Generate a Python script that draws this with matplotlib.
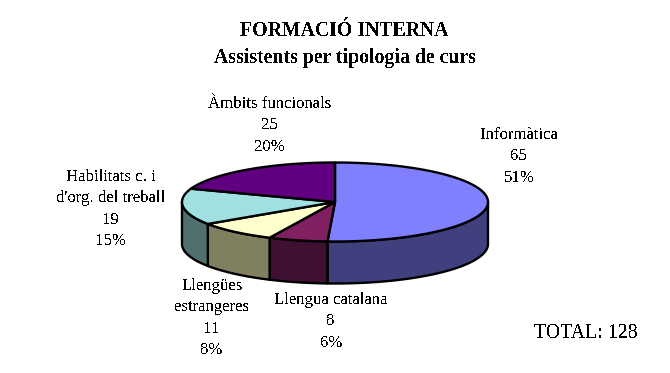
import numpy as np
import matplotlib
matplotlib.use('Agg')
import matplotlib.pyplot as plt

plt.rcParams['font.family'] = ['Liberation Serif', 'DejaVu Serif']
plt.rcParams['text.antialiased'] = False

# Data
names = ['Informàtica', 'Llengua catalana', 'Llengües\nestrangeres',
         "Habilitats c. i\nd'org. del treball", 'Àmbits funcionals']
values = [65, 8, 11, 19, 25]
percents = ['51%', '6%', '8%', '15%', '20%']
top_colors = ['#8080FF', '#802060', '#FFFFCC', '#A0E0E0', '#600080']
side_colors = ['#40407F', '#401030', '#808060', '#507070', '#300040']

# label centre x and y of the first line, in pixels
label_x = [519, 331, 212, 111, 270]
label_y = [135, 300, 286, 177, 104]
line_step = 21.4

# pie geometry in pixels
cx, cy = 335, 202
rx, ry = 153, 39.5
depth = 42

W, H = 670, 373
fig = plt.figure(figsize=(W / 100, H / 100), dpi=100)
ax = fig.add_axes([0, 0, 1, 1])
ax.set_xlim(0, W)
ax.set_ylim(H, 0)
ax.axis('off')


def rim(a, b):
    # angles in degrees, clockwise from the top of the ellipse
    t = np.radians(np.linspace(a, b, max(int(abs(b - a)) * 2, 2)))
    return cx + rx * np.sin(t), cy - ry * np.cos(t)


edges = np.concatenate([[0], np.cumsum(values)]) * 360.0 / sum(values)

# side wall, only the front half of the rim shows
for i in range(len(values)):
    a = max(edges[i], 90)
    b = min(edges[i + 1], 270)
    if a >= b:
        continue
    x, y = rim(a, b)
    ax.fill(np.r_[x, x[::-1]], np.r_[y, y[::-1] + depth],
            facecolor=side_colors[i], edgecolor='black', lw=1.7, joinstyle='round')

# top face
for i in range(len(values)):
    x, y = rim(edges[i], edges[i + 1])
    ax.fill(np.r_[cx, x], np.r_[cy, y],
            facecolor=top_colors[i], edgecolor='black', lw=1.7, joinstyle='round')

# labels
for i in range(len(values)):
    lines = names[i].split('\n') + [str(values[i]), percents[i]]
    for j, line in enumerate(lines):
        ax.text(label_x[i], label_y[i] + j * line_step, line, fontsize=12.1,
                ha='center', va='center', color='black')

ax.text(344, 31, 'FORMACIÓ INTERNA', fontsize=14.2, fontweight='bold', ha='center', va='center')
ax.text(345, 58, 'Assistents per tipologia de curs', fontsize=14.2, fontweight='bold', ha='center', va='center')
ax.text(586, 333, 'TOTAL: 128', fontsize=14.3, ha='center', va='center')

fig.savefig('out.png', dpi=100)
